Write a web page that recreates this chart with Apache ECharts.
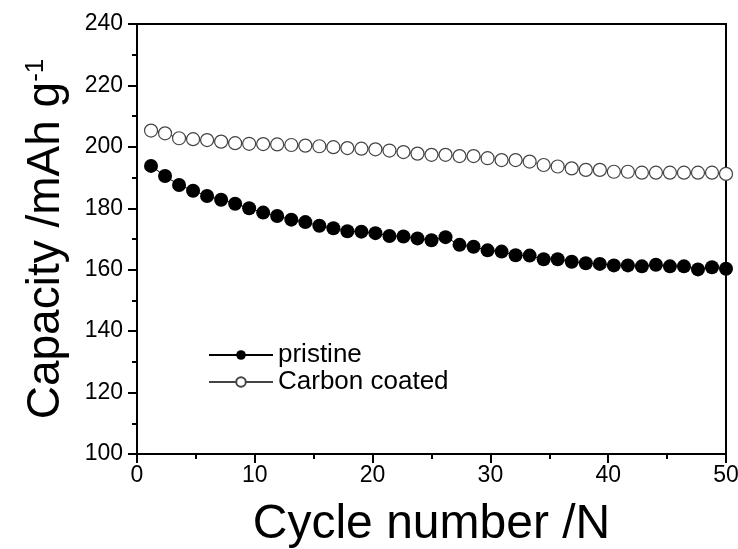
<!DOCTYPE html>
<html>
<head>
<meta charset="utf-8">
<script src="https://cdn.jsdelivr.net/npm/echarts@6/dist/echarts.min.js"></script>
<style>
  html, body { margin: 0; background: #fff; }
  #chart { width: 738px; height: 549px; }
</style>
</head>
<body>
<div id="chart"></div>
<script>
// cycle positions of the points
var cycles = [1.19, 2.38, 3.57, 4.76, 5.95, 7.14, 8.33, 9.52, 10.71, 11.9,
  13.1, 14.29, 15.48, 16.67, 17.86, 19.05, 20.24, 21.43, 22.62, 23.81,
  25, 26.19, 27.38, 28.57, 29.76, 30.95, 32.14, 33.33, 34.52, 35.71,
  36.9, 38.1, 39.29, 40.48, 41.67, 42.86, 44.05, 45.24, 46.43, 47.62,
  48.81, 50]
var pristine = [193.8, 190.5, 187.6, 185.7, 184.0, 182.8, 181.5, 180.0, 178.6, 177.5,
  176.3, 175.5, 174.3, 173.5, 172.5, 172.4, 171.9, 171.0, 170.8, 170.2,
  169.6, 170.6, 168.1, 167.5, 166.3, 165.9, 164.7, 164.6, 163.4, 163.4,
  162.6, 162.1, 161.9, 161.4, 161.4, 161.1, 161.6, 161.1, 161.1, 160.1,
  160.8, 160.3]
var carbonCoated = [205.3, 204.4, 202.8, 202.5, 202.2, 201.7, 201.2, 201.0, 200.9, 200.8,
  200.6, 200.4, 200.2, 199.9, 199.6, 199.4, 199.2, 198.8, 198.3, 197.8,
  197.4, 197.4, 197.0, 197.0, 196.3, 195.7, 195.7, 195.2, 194.1, 193.6,
  193.0, 192.5, 192.5, 191.9, 191.9, 191.6, 191.6, 191.6, 191.6, 191.6,
  191.6, 191.2]

var font = 'Arial, "Liberation Sans", sans-serif'

function pairs(ys) {
  return cycles.map(function (c, i) { return [c, ys[i]] })
}

var chart = echarts.init(document.getElementById('chart'))
var axisCommon = {
  type: 'value',
  nameLocation: 'middle',
  axisLine: { lineStyle: { color: '#000', width: 2 } },
  axisTick: { length: 9, lineStyle: { color: '#000', width: 2 } },
  minorTick: { show: true, splitNumber: 2, length: 5, lineStyle: { color: '#000', width: 2 } },
  splitLine: { show: false },
  minorSplitLine: { show: false },
  axisLabel: { fontSize: 23, color: '#000', fontFamily: font }
}

chart.setOption({
  animation: false,
  backgroundColor: '#fff',
  grid: {
    left: 137,
    right: 12,
    top: 24,
    bottom: 95,
    outerBoundsMode: 'none',
    show: true,
    borderColor: '#000',
    borderWidth: 2
  },
  legend: {
    orient: 'vertical',
    left: 203,
    top: 337,
    itemWidth: 64,
    itemHeight: 12,
    itemGap: 1,
    textStyle: { fontSize: 26, color: '#000', fontFamily: font },
    data: ['pristine', 'Carbon coated']
  },
  xAxis: Object.assign({}, axisCommon, {
    min: 0,
    max: 50,
    interval: 10,
    name: 'Cycle number /N',
    nameGap: 47,
    nameTextStyle: { fontSize: 48, color: '#000', fontFamily: font },
    axisLabel: Object.assign({}, axisCommon.axisLabel, { margin: 10 })
  }),
  yAxis: Object.assign({}, axisCommon, {
    min: 100,
    max: 240,
    interval: 20,
    name: '{a|Capacity /mAh g}{sup|-1}',
    nameGap: 68,
    nameTextStyle: {
      color: '#000',
      fontFamily: font,
      fontSize: 46,
      rich: {
        a: { fontSize: 46, color: '#000', fontFamily: font },
        sup: { fontSize: 26, color: '#000', fontFamily: font, verticalAlign: 'top' }
      }
    },
    axisLabel: Object.assign({}, axisCommon.axisLabel, { margin: 14 })
  }),
  series: [
    {
      name: 'pristine',
      type: 'line',
      data: pairs(pristine),
      symbol: 'circle',
      symbolSize: 14,
      itemStyle: { color: '#000' },
      lineStyle: { color: '#000', width: 1 }
    },
    {
      name: 'Carbon coated',
      type: 'line',
      data: pairs(carbonCoated),
      symbol: 'circle',
      symbolSize: 13,
      itemStyle: { color: '#fff', borderColor: '#444', borderWidth: 1.2 },
      lineStyle: { color: '#444', width: 1 }
    }
  ]
})
</script>
</body>
</html>
